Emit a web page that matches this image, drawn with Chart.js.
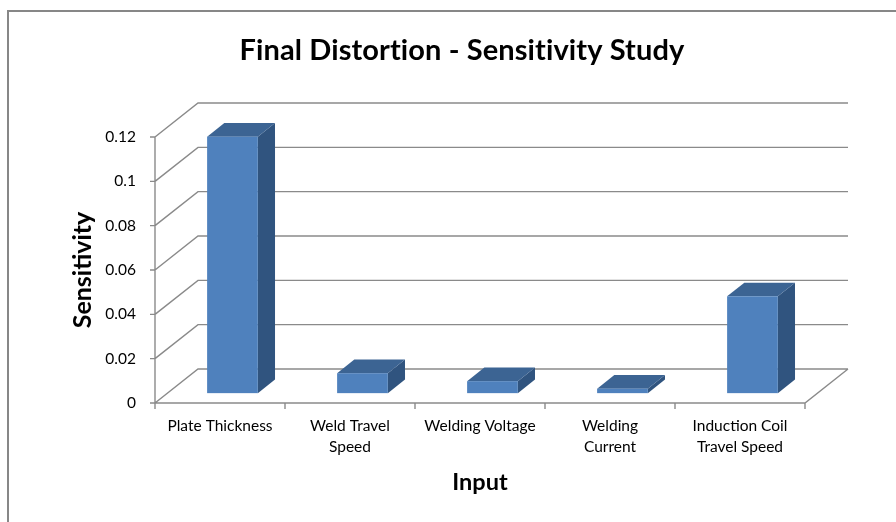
<!DOCTYPE html>
<html>
<head>
<meta charset="utf-8">
<script src="https://cdn.jsdelivr.net/npm/chart.js@4.4.1/dist/chart.umd.min.js"></script>
<style>
  html, body { margin: 0; padding: 0; background: #ffffff; }
  #wrap { position: relative; width: 896px; height: 522px; }
  canvas { display: block; }
</style>
</head>
<body>
<div id="wrap"><canvas id="c" width="896" height="522"></canvas></div>
<script>
// Sensitivity of final distortion to each welding input
const categories = [
  ['Plate Thickness'],
  ['Weld Travel', 'Speed'],
  ['Welding Voltage'],
  ['Welding', 'Current'],
  ['Induction Coil', 'Travel Speed']
];
const sensitivity = [0.1157, 0.009, 0.0054, 0.002, 0.0437];
const yTicks = [0, 0.02, 0.04, 0.06, 0.08, 0.1, 0.12];

const chartTitle = 'Final Distortion - Sensitivity Study';
const FONT = 'Lato, "Open Sans", sans-serif';

// Perspective depth vector of the box (back wall offset from the front plane)
const DEPTH_X = 43;
const DEPTH_Y = -34;
// Bar placement inside the box depth, and bar width as a share of a category slot
const BAR_FRONT = 0.29;
const BAR_DEPTH = 0.40;
const BAR_SHARE = 0.39;

const GRID = '#8a8a8a';
const FACE = '#4f81bd';
const TOP = '#3c6493';
const SIDE = '#30547f';

const box3d = {
  id: 'box3d',
  beforeDraw(chart) {
    const ctx = chart.ctx;
    ctx.save();
    ctx.fillStyle = '#ffffff';
    ctx.fillRect(0, 0, chart.width, chart.height);
    // outer frame
    ctx.strokeStyle = '#878787';
    ctx.lineWidth = 2;
    ctx.beginPath();
    ctx.moveTo(8, chart.height + 2);
    ctx.lineTo(8, 11);
    ctx.lineTo(chart.width + 2, 11);
    ctx.stroke();
    // chart title (a hair of letter spacing keeps letters unligated)
    ctx.fillStyle = '#000000';
    ctx.font = 'bold 29px ' + FONT;
    ctx.letterSpacing = '0.1px';
    ctx.textAlign = 'center';
    ctx.textBaseline = 'middle';
    ctx.fillText(chartTitle, 462, 51);
    ctx.restore();
  },
  beforeDatasetsDraw(chart) {
    const ctx = chart.ctx;
    const ys = chart.scales.y;
    const L = chart.chartArea.left, R = chart.chartArea.right;
    const B = ys.getPixelForValue(0), T = ys.getPixelForValue(yTicks[yTicks.length - 1]);
    ctx.save();
    ctx.strokeStyle = GRID;
    ctx.lineWidth = 1.4;
    ctx.beginPath();
    // side wall diagonals and back wall gridlines
    yTicks.forEach(v => {
      const y = ys.getPixelForValue(v);
      ctx.moveTo(L, y);
      ctx.lineTo(L + DEPTH_X, y + DEPTH_Y);
      ctx.lineTo(R + DEPTH_X, y + DEPTH_Y);
      // tick marks on the front vertical axis
      ctx.moveTo(L - 5, y);
      ctx.lineTo(L, y);
    });
    // front vertical axis
    ctx.moveTo(L, T);
    ctx.lineTo(L, B);
    // floor front and right edges
    ctx.lineTo(R, B);
    ctx.lineTo(R + DEPTH_X, B + DEPTH_Y);
    // category boundary ticks
    const n = categories.length;
    const step = (R - L) / n;
    for (let i = 0; i <= n; i++) {
      ctx.moveTo(L + i * step, B);
      ctx.lineTo(L + i * step, B + 6);
    }
    ctx.stroke();
    ctx.restore();
  },
  afterDatasetsDraw(chart) {
    const ctx = chart.ctx;
    const xs = chart.scales.x, ys = chart.scales.y;
    const step = (chart.chartArea.right - chart.chartArea.left) / categories.length;
    const w = step * BAR_SHARE;
    const fx = BAR_FRONT * DEPTH_X, fy = BAR_FRONT * DEPTH_Y;
    const bx = BAR_DEPTH * DEPTH_X, by = BAR_DEPTH * DEPTH_Y;
    ctx.save();
    chart.data.datasets[0].data.forEach((v, i) => {
      const xc = xs.getPixelForValue(i) + fx;
      const x0 = xc - w / 2, x1 = xc + w / 2;
      const yb = ys.getPixelForValue(0) + fy;
      const yt = ys.getPixelForValue(v) + fy;
      // right side
      ctx.fillStyle = SIDE;
      ctx.beginPath();
      ctx.moveTo(x1, yb);
      ctx.lineTo(x1, yt);
      ctx.lineTo(x1 + bx, yt + by);
      ctx.lineTo(x1 + bx, yb + by);
      ctx.closePath();
      ctx.fill();
      // top
      ctx.fillStyle = TOP;
      ctx.beginPath();
      ctx.moveTo(x0, yt);
      ctx.lineTo(x1, yt);
      ctx.lineTo(x1 + bx, yt + by);
      ctx.lineTo(x0 + bx, yt + by);
      ctx.closePath();
      ctx.fill();
      // front
      ctx.fillStyle = FACE;
      ctx.fillRect(x0, yt, w, yb - yt);
    });
    ctx.restore();
  }
};

new Chart(document.getElementById('c'), {
  type: 'bar',
  data: {
    labels: categories,
    datasets: [{
      label: 'Sensitivity',
      data: sensitivity,
      backgroundColor: 'rgba(0,0,0,0)',
      borderWidth: 0
    }]
  },
  options: {
    responsive: false,
    animation: false,
    events: [],
    layout: { padding: { top: 137, right: 91, left: 0, bottom: 0 } },
    plugins: {
      legend: { display: false },
      title: { display: false },
      tooltip: { enabled: false }
    },
    scales: {
      x: {
        grid: { display: false, drawTicks: false },
        border: { display: false },
        ticks: {
          color: '#000000',
          font: { family: FONT, size: 15.5, lineHeight: 1.38 },
          padding: 12,
          maxRotation: 0,
          autoSkip: false
        },
        title: {
          display: true,
          text: 'Input',
          color: '#000000',
          font: { family: FONT, size: 23.5, weight: 'bold', lineHeight: 1.2 },
          padding: { top: 0, bottom: 25 }
        },
        afterFit(scale) { scale.height = 119; }
      },
      y: {
        min: 0,
        max: 0.12,
        grid: { display: false, drawTicks: false },
        border: { display: false },
        afterBuildTicks(scale) { scale.ticks = yTicks.map(v => ({ value: v })); },
        ticks: {
          color: '#000000',
          font: { family: FONT, size: 15.5 },
          padding: 19,
          callback: v => String(+v.toFixed(2))
        },
        title: {
          display: true,
          text: 'Sensitivity',
          color: '#000000',
          font: { family: FONT, size: 25, weight: 'bold', lineHeight: 1.2 },
          padding: { top: 68, bottom: 0 }
        },
        afterFit(scale) { scale.width = 155; }
      }
    }
  },
  plugins: [box3d]
});
</script>
</body>
</html>
